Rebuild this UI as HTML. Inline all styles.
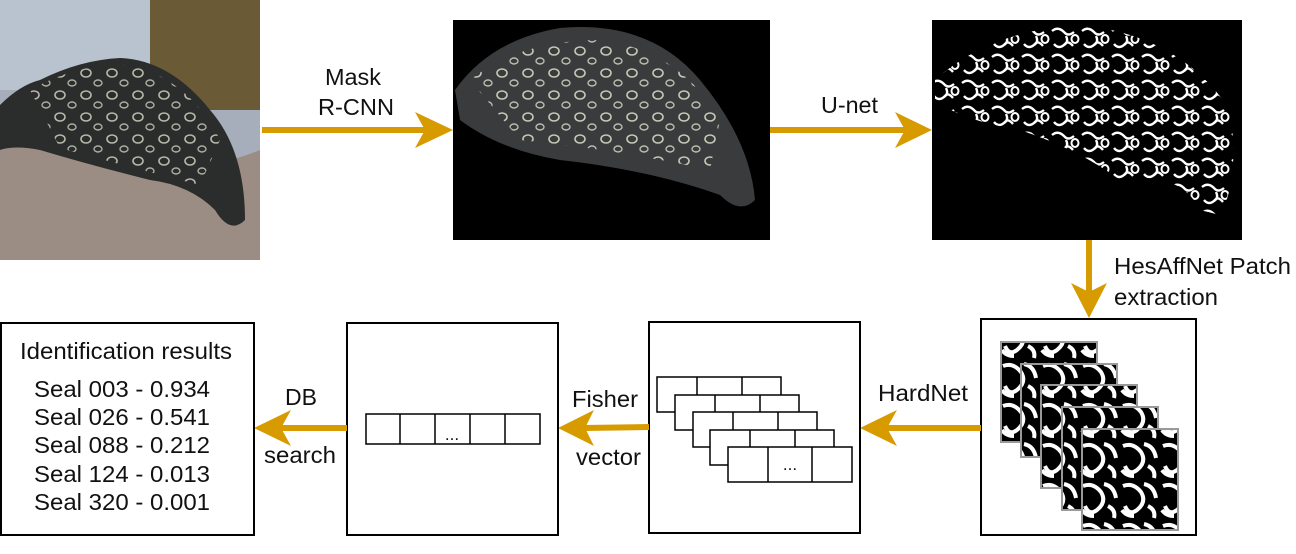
<!DOCTYPE html>
<html><head><meta charset="utf-8"><style>
html,body{margin:0;padding:0;background:#fff;}
svg{display:block;}
text{font-family:"Liberation Sans",sans-serif;font-size:23px;fill:#111;}
</style></head><body>
<svg width="1296" height="554" viewBox="0 0 1296 554" xmlns="http://www.w3.org/2000/svg">
<defs>
<pattern id="spots" width="26" height="22" patternUnits="userSpaceOnUse">
<ellipse cx="8" cy="7" rx="5" ry="4" fill="none" stroke="#c8c8b8" stroke-width="1.6"/>
<ellipse cx="20" cy="17" rx="4" ry="3" fill="none" stroke="#bdbdb0" stroke-width="1.4"/>
</pattern>
<pattern id="wsq" width="30" height="26" patternUnits="userSpaceOnUse">
<path d="M2 5 q6 -5 12 1 q4 5 10 0 M4 18 q5 6 11 0 q3 -4 8 2 M16 10 q3 6 -2 9" fill="none" stroke="#fff" stroke-width="2.4"/>
<ellipse cx="25" cy="13" rx="3.5" ry="4" fill="none" stroke="#fff" stroke-width="2"/>
</pattern>
<pattern id="psq" width="40" height="40" patternUnits="userSpaceOnUse">
<rect width="40" height="40" fill="#000"/>
<path d="M3 6 q10 -4 18 6 q6 10 -4 18 q-8 6 -12 -4 M24 4 q10 2 12 14 M28 26 q8 4 6 12 M2 30 q4 6 12 6" fill="none" stroke="#fff" stroke-width="4"/>
</pattern>
</defs>

<!-- photo 1 -->
<rect x="0" y="0" width="260" height="260" fill="#a7aebb"/>
<rect x="150" y="0" width="110" height="110" fill="#6b5a36"/>
<rect x="0" y="0" width="150" height="90" fill="#b9c2cf"/>
<path d="M0 150 Q60 135 130 165 Q200 175 260 150 L260 260 L0 260 Z" fill="#9b8d83"/>
<path d="M0 105 Q20 85 40 80 Q80 60 120 58 Q170 60 210 110 Q245 150 245 220 Q230 235 215 210 Q190 185 150 180 Q90 165 40 150 Q15 145 0 150 Z" fill="#2b2c2c"/>
<path d="M30 90 Q80 62 130 65 Q190 80 220 140 L200 185 Q140 170 60 148 Z" fill="url(#spots)" opacity="0.9"/>
<!-- arrow 1 -->
<line x1="262" y1="130" x2="425" y2="130" stroke="#d79b00" stroke-width="6"/>
<path d="M453 130 L415 112 L425 130 L415 148 Z" fill="#d79b00"/>
<text x="325" y="85" textLength="56" lengthAdjust="spacingAndGlyphs">Mask</text>
<text x="318" y="115" textLength="76" lengthAdjust="spacingAndGlyphs">R-CNN</text>
<!-- photo 2 -->
<rect x="453" y="20" width="317" height="220" fill="#000"/>
<path d="M455 90 Q490 40 560 28 Q650 20 700 80 Q750 140 755 200 Q740 215 720 195 Q650 170 560 160 Q500 150 460 120 Z" fill="#3a3b3c"/>
<path d="M470 80 Q520 40 600 40 Q680 50 720 120 L710 170 Q620 150 520 140 Z" fill="url(#spots)"/>
<!-- arrow 2 -->
<line x1="770" y1="130" x2="905" y2="130" stroke="#d79b00" stroke-width="6"/>
<path d="M932 130 L895 112 L905 130 L895 148 Z" fill="#d79b00"/>
<text x="821" y="113" textLength="57" lengthAdjust="spacingAndGlyphs">U-net</text>
<!-- photo 3 -->
<rect x="932" y="20" width="310" height="220" fill="#000"/>
<path d="M935 80 Q990 30 1080 25 Q1180 35 1230 110 Q1240 180 1220 215 L1200 210 Q1180 170 1120 180 Q1080 150 1020 130 Q960 120 935 100 Z" fill="url(#wsq)"/>
<!-- down arrow -->
<line x1="1089" y1="240" x2="1089" y2="295" stroke="#d79b00" stroke-width="6"/>
<path d="M1089 318 L1071 283 L1089 292 L1107 283 Z" fill="#d79b00"/>
<text x="1114" y="274" textLength="177" lengthAdjust="spacingAndGlyphs">HesAffNet Patch</text>
<text x="1114" y="305" textLength="104" lengthAdjust="spacingAndGlyphs">extraction</text>

<!-- patch box -->
<rect x="981" y="319" width="215" height="216" fill="#fff" stroke="#000" stroke-width="2"/>
<g stroke="#999" stroke-width="2">
<rect x="1001" y="342" width="96" height="100" fill="url(#psq)"/>
<rect x="1021" y="364" width="96" height="93" fill="url(#psq)"/>
<rect x="1041" y="385" width="96" height="103" fill="url(#psq)"/>
<rect x="1062" y="407" width="96" height="103" fill="url(#psq)"/>
<rect x="1082" y="429" width="96" height="101" fill="url(#psq)"/>
</g>
<!-- HardNet arrow -->
<line x1="981" y1="428" x2="885" y2="428" stroke="#d79b00" stroke-width="6"/>
<path d="M860 428 L897 410 L887 428 L897 446 Z" fill="#d79b00"/>
<text x="878" y="401" textLength="90" lengthAdjust="spacingAndGlyphs">HardNet</text>

<!-- fisher box -->
<rect x="649" y="322" width="211" height="211" fill="#fff" stroke="#000" stroke-width="2"/>
<g fill="#fff" stroke="#000" stroke-width="1.5">
<rect x="657" y="377" width="124" height="35"/><line x1="697" y1="377" x2="697" y2="412"/><line x1="742" y1="377" x2="742" y2="412"/>
<rect x="675" y="395" width="124" height="35"/><line x1="715" y1="395" x2="715" y2="430"/><line x1="760" y1="395" x2="760" y2="430"/>
<rect x="693" y="412" width="124" height="35"/><line x1="733" y1="412" x2="733" y2="447"/><line x1="778" y1="412" x2="778" y2="447"/>
<rect x="710" y="430" width="124" height="35"/><line x1="750" y1="430" x2="750" y2="465"/><line x1="795" y1="430" x2="795" y2="465"/>
<rect x="728" y="447" width="124" height="35"/><line x1="768" y1="447" x2="768" y2="482"/><line x1="812" y1="447" x2="812" y2="482"/>
</g>
<text x="790" y="470" text-anchor="middle" style="font-size:17px">...</text>
<!-- Fisher arrow -->
<line x1="649" y1="427" x2="583" y2="428" stroke="#d79b00" stroke-width="6"/>
<path d="M558 428 L594 410 L585 428 L594 446 Z" fill="#d79b00"/>
<text x="572" y="407" textLength="66" lengthAdjust="spacingAndGlyphs">Fisher</text>
<text x="576" y="465" textLength="65" lengthAdjust="spacingAndGlyphs">vector</text>

<!-- vector box -->
<rect x="347" y="323" width="211" height="212" fill="#fff" stroke="#000" stroke-width="2"/>
<g fill="none" stroke="#000" stroke-width="1.5">
<rect x="366" y="414" width="174" height="30"/>
<line x1="400" y1="414" x2="400" y2="444"/><line x1="435" y1="414" x2="435" y2="444"/><line x1="470" y1="414" x2="470" y2="444"/><line x1="505" y1="414" x2="505" y2="444"/>
</g>
<text x="452" y="440" text-anchor="middle" style="font-size:17px">...</text>
<!-- DB arrow -->
<line x1="347" y1="428" x2="280" y2="428" stroke="#d79b00" stroke-width="6"/>
<path d="M254 428 L291 410 L281 428 L291 446 Z" fill="#d79b00"/>
<text x="285" y="405" textLength="32" lengthAdjust="spacingAndGlyphs">DB</text>
<text x="264" y="463" textLength="72" lengthAdjust="spacingAndGlyphs">search</text>

<!-- results box -->
<rect x="1" y="323" width="253" height="212" fill="#fff" stroke="#000" stroke-width="2"/>
<text x="20" y="359" textLength="212" lengthAdjust="spacingAndGlyphs">Identification results</text>
<text x="34" y="397" textLength="176" lengthAdjust="spacingAndGlyphs">Seal 003 - 0.934</text>
<text x="34" y="425" textLength="176" lengthAdjust="spacingAndGlyphs">Seal 026 - 0.541</text>
<text x="34" y="453" textLength="176" lengthAdjust="spacingAndGlyphs">Seal 088 - 0.212</text>
<text x="34" y="482" textLength="176" lengthAdjust="spacingAndGlyphs">Seal 124 - 0.013</text>
<text x="34" y="510" textLength="176" lengthAdjust="spacingAndGlyphs">Seal 320 - 0.001</text>
</svg>
</body></html>
